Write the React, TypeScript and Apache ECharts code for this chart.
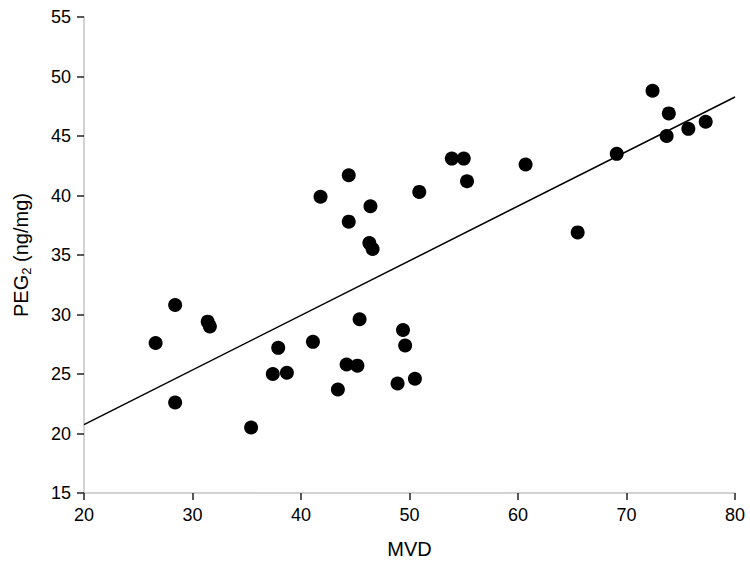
import React, { useEffect, useRef } from "react";
import * as echarts from "echarts";

const mvd = [26.6, 28.4, 28.4, 31.4, 31.6, 35.4, 37.4, 37.9, 38.7, 41.1, 41.8, 43.4, 44.2, 44.4, 44.4, 45.2, 45.4, 46.4, 46.3, 46.6, 48.9, 49.4, 49.6, 50.5, 50.9, 53.9, 55.0, 55.3, 60.7, 65.5, 69.1, 72.4, 73.9, 73.7, 75.7, 77.3];
const peg2 = [27.6, 30.8, 22.6, 29.4, 29.0, 20.5, 25.0, 27.2, 25.1, 27.7, 39.9, 23.7, 25.8, 41.7, 37.8, 25.7, 29.6, 39.1, 36.0, 35.5, 24.2, 28.7, 27.4, 24.6, 40.3, 43.1, 43.1, 41.2, 42.6, 36.9, 43.5, 48.8, 46.9, 45.0, 45.6, 46.2];
const fitX = [20, 80];
const fitY = [20.75, 48.28];

export default function App() {
  const ref = useRef<HTMLDivElement>(null);
  useEffect(() => {
    document.body.style.margin = "0";
    if (!ref.current) return;
    const chart = echarts.init(ref.current, null, { renderer: "svg" });
    const font = "'Liberation Sans', Arial, sans-serif";
    chart.setOption({
      animation: false,
      backgroundColor: "#ffffff",
      grid: { left: 84, right: 15, top: 17, bottom: 79 },
      xAxis: {
        type: "value",
        min: 20,
        max: 80,
        interval: 10,
        name: "MVD",
        nameLocation: "middle",
        nameGap: 46,
        nameTextStyle: { fontFamily: font, fontSize: 20, color: "#000" },
        axisLine: { show: true, lineStyle: { color: "#c4c4c4", width: 1.5 } },
        axisTick: { show: true, length: 7, lineStyle: { color: "#222", width: 1.5 } },
        axisLabel: { fontFamily: font, fontSize: 18, color: "#000", margin: 13 },
        splitLine: { show: false },
      },
      yAxis: {
        type: "value",
        min: 15,
        max: 55,
        interval: 5,
        name: "{a|PEG}{b|2}{a| (ng/mg)}",
        nameLocation: "middle",
        nameGap: 51,
        nameRotate: 90,
        nameTextStyle: {
          fontFamily: font,
          color: "#000",
          rich: {
            a: { fontFamily: font, fontSize: 20, color: "#000", lineHeight: 24 },
            b: { fontFamily: font, fontSize: 13, color: "#000", lineHeight: 14, padding: [10, 0, 0, 0], verticalAlign: "bottom" },
          },
        },
        axisLine: { show: true, lineStyle: { color: "#c4c4c4", width: 1.5 } },
        axisTick: { show: true, length: 7, lineStyle: { color: "#222", width: 1.5 } },
        axisLabel: { fontFamily: font, fontSize: 18, color: "#000", margin: 13 },
        splitLine: { show: false },
      },
      series: [
        {
          type: "line",
          data: fitX.map((x, i) => [x, fitY[i]]),
          symbol: "none",
          lineStyle: { color: "#000", width: 1.5 },
          z: 1,
        },
        {
          type: "scatter",
          data: mvd.map((x, i) => [x, peg2[i]]),
          symbol: "circle",
          symbolSize: 14,
          itemStyle: { color: "#000", opacity: 1 },
          z: 2,
        },
      ],
    });
    return () => chart.dispose();
  }, []);
  return <div ref={ref} style={{ width: 750, height: 572 }} />;
}
